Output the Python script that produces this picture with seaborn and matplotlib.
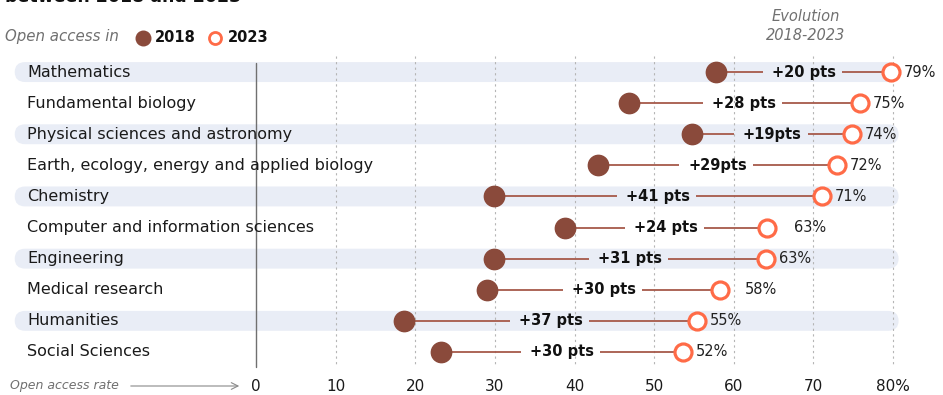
import numpy as np
import pandas as pd
import seaborn as sns
import matplotlib.pyplot as plt
from matplotlib.patches import FancyBboxPatch

fields = ["Mathematics", "Fundamental biology", "Physical sciences and astronomy",
          "Earth, ecology, energy and applied biology", "Chemistry",
          "Computer and information sciences", "Engineering", "Medical research",
          "Humanities", "Social Sciences"]
oa_2018 = [57.8, 46.9, 54.8, 43.0, 29.9, 38.8, 29.9, 29.0, 18.6, 23.2]
oa_2023 = [79.8, 75.8, 74.9, 73.0, 71.1, 64.2, 64.1, 58.3, 55.4, 53.6]
gain_labels = ["+20 pts", "+28 pts", "+19pts", "+29pts", "+41 pts",
               "+24 pts", "+31 pts", "+30 pts", "+37 pts", "+30 pts"]
pct_labels = ["79%", "75%", "74%", "72%", "71%", "63%", "63%", "58%", "55%", "52%"]
xticks = [0, 10, 20, 30, 40, 50, 60, 70, 80]
xtick_labels = ["0", "10", "20", "30", "40", "50", "60", "70", "80%"]

# a couple of % labels sit further right in the original
pct_nudge = [0, 0, 0, 0, 0, 1.8, 0, 1.5, 0, 0]

c18 = "#8a4a3b"
c23 = "#ff6b47"
band = "#e9edf6"
grey = "#707070"

sns.set_theme(style="white")
plt.rcParams['font.family'] = ['DejaVu Sans']

df = pd.DataFrame({"field": fields, "y": np.arange(len(fields)),
                   "v2018": oa_2018, "v2023": oa_2023})

fig = plt.figure(figsize=(9.43, 3.95), dpi=100)
ax = fig.add_axes([256 / 943, 1 - 367.5 / 395, 637 / 943, 311 / 395])
ax.set_xlim(0, 80)
ax.set_ylim(9.5, -0.5)

# alternating bands
for i in range(0, len(fields), 2):
    ax.add_patch(FancyBboxPatch((-30.3, i - 0.32), 111.0, 0.64,
                                boxstyle="round,pad=0,rounding_size=1.3",
                                mutation_aspect=0.32 / 1.3,
                                fc=band, ec="none", zorder=0, clip_on=False))

# grid
for t in xticks[1:]:
    ax.plot([t, t], [-0.5, 9.5], ls=(0, (2, 3)), color="#b5b5b5", lw=0.8, zorder=1,
            clip_on=False)
ax.plot([0, 0], [-0.3, 9.5], color="#707070", lw=1.0, zorder=1, clip_on=False)

sns.scatterplot(data=df, x="v2018", y="y", ax=ax, s=210, color=c18,
                edgecolor=c18, zorder=4, legend=False, clip_on=False)
sns.scatterplot(data=df, x="v2023", y="y", ax=ax, s=150, color="white",
                edgecolor=c23, linewidth=2.3, zorder=4, legend=False, clip_on=False)

mids = (df["v2018"] + df["v2023"]) / 2
gain_txt = []
for i, row in df.iterrows():
    gain_txt.append(ax.text(mids[i], i, gain_labels[i], ha="center", va="center",
                            fontsize=10.5, fontweight="bold", color="#111111", zorder=3))
    ax.text(row["v2023"] + 1.6 + pct_nudge[i], i, pct_labels[i], ha="left",
            va="center", fontsize=10.5, color="#222222", zorder=5)
    ax.text(-28.7, i, row["field"], ha="left", va="center", fontsize=11.5,
            color="#1a1a1a", zorder=5, clip_on=False)

# connecting lines, broken around the gain label
fig.canvas.draw()
inv = ax.transData.inverted()
for i, t in enumerate(gain_txt):
    bb = t.get_window_extent()
    x0 = inv.transform((bb.x0 - 9, 0))[0]
    x1 = inv.transform((bb.x1 + 6, 0))[0]
    ax.hlines(i, df["v2018"][i], x0, color="#a6594a", lw=1.3, zorder=2)
    ax.hlines(i, x1, df["v2023"][i], color="#a6594a", lw=1.3, zorder=2)

sns.despine(ax=ax, left=True, bottom=True, top=True, right=True)
ax.set_yticks([])
ax.set_xticks(xticks)
ax.set_xticklabels(xtick_labels, fontsize=11, color="#1a1a1a")
ax.tick_params(axis="x", length=0, pad=8)
ax.set_xlabel("")
ax.set_ylabel("")
ax.patch.set_alpha(0)

# axis caption with arrow
fig.text(10 / 943, 1 - 386 / 395, "Open access rate", fontsize=9, style="italic",
         color=grey, va="center", ha="left")
ax.annotate("", xy=(242 / 943, 1 - 386 / 395), xytext=(128 / 943, 1 - 386 / 395),
            xycoords="figure fraction",
            arrowprops=dict(arrowstyle="->", color="#8a8a8a", lw=0.8))

# legend
fig.text(5 / 943, 1 - 37 / 395, "Open access in", fontsize=10.8, style="italic",
         color=grey, va="center", ha="left")
fig.text(155 / 943, 1 - 37 / 395, "2018", fontsize=10.5, fontweight="bold",
         color="#111111", va="center", ha="left")
fig.text(228 / 943, 1 - 37 / 395, "2023", fontsize=10.5, fontweight="bold",
         color="#111111", va="center", ha="left")
lax = fig.add_axes([0, 0, 1, 1])
lax.set_xlim(0, 943)
lax.set_ylim(395, 0)
lax.axis("off")
lax.scatter([143], [37.5], s=110, color=c18, zorder=3)
lax.scatter([215], [37.5], s=75, color="white", edgecolor=c23, linewidth=2)

fig.text(806 / 943, 1 - 26 / 395, "Evolution\n2018-2023", fontsize=10.5, style="italic",
         color=grey, va="center", ha="center", linespacing=1.3)

# cut-off subtitle at the top (the source image is cropped there)
fig.text(5 / 943, 1 + 3 / 395, "between 2018 and 2023", fontsize=12.5,
         fontweight="bold", color="#111111", va="center", ha="left")

fig.savefig("out.png", dpi=100)
